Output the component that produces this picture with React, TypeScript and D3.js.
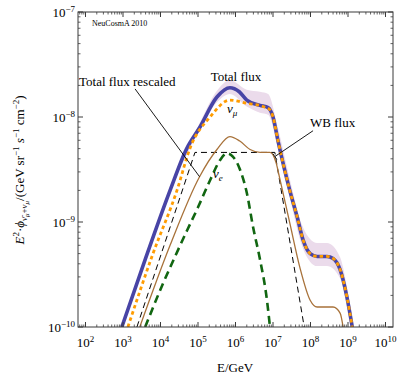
import React from 'react';
import * as d3 from 'd3';

// total flux (nu_mu + nubar_mu), GeV / flux
const totalE = [9.3e2, 4.0e3, 1.8e4, 5.0e4, 1.1e5, 3.2e5, 7.1e5, 1.26e6, 2.0e6, 4.5e6, 7.4e6, 1.0e7, 1.35e7, 2.8e7, 4.4e7, 6.3e7, 9.8e7, 1.5e8, 2.75e8, 4.0e8, 6.2e8, 9.3e8, 1.3e9];
const totalF = [1.0e-10, 4.5e-10, 2.0e-9, 5.0e-9, 7.9e-9, 1.55e-8, 1.9e-8, 1.74e-8, 1.45e-8, 1.29e-8, 1.23e-8, 1.0e-8, 6.0e-9, 2.0e-9, 1.12e-9, 6.8e-10, 5.0e-10, 4.7e-10, 4.7e-10, 4.5e-10, 3.5e-10, 1.95e-10, 1.0e-10];

// uncertainty band around total flux
const bandE = [3.16e4, 1.1e5, 3.2e5, 7.1e5, 2.0e6, 4.5e6, 7.4e6, 1.35e7, 2.8e7, 6.3e7, 1.5e8, 2.75e8, 6.2e8, 9.3e8, 1.3e9];
const bandHi = [3.47e-9, 8.7e-9, 1.78e-8, 2.24e-8, 1.82e-8, 1.74e-8, 1.66e-8, 7.9e-9, 2.57e-9, 8.9e-10, 6.3e-10, 6.3e-10, 4.6e-10, 2.45e-10, 1.2e-10];
const bandLo = [3.16e-9, 7.4e-9, 1.38e-8, 1.66e-8, 1.26e-8, 1.10e-8, 1.05e-8, 5.1e-9, 1.7e-9, 5.6e-10, 3.8e-10, 3.8e-10, 2.9e-10, 1.7e-10, 0.91e-10];

// nu_mu
const numuE = [1.35e3, 6.3e3, 2.75e4, 6.2e4, 2.1e5, 7.1e5, 2.0e6, 5.4e6, 8.3e6, 1.0e7, 1.35e7, 2.8e7, 4.4e7, 6.3e7, 9.8e7, 1.5e8, 2.75e8, 4.0e8, 6.2e8, 9.3e8, 1.3e9];
const numuF = [1.0e-10, 5.0e-10, 2.0e-9, 5.1e-9, 1.0e-8, 1.45e-8, 1.35e-8, 1.26e-8, 1.17e-8, 1.0e-8, 6.0e-9, 2.0e-9, 1.12e-9, 6.8e-10, 5.0e-10, 4.7e-10, 4.7e-10, 4.5e-10, 3.5e-10, 1.95e-10, 1.0e-10];

// nu_e
const nueE = [3.9e3, 1.17e4, 2.45e4, 5.1e4, 1.0e5, 2.1e5, 3.9e5, 5.9e5, 8.5e5, 1.3e6, 2.0e6, 2.95e6, 4.5e6, 6.9e6, 8.3e6];
const nueF = [1.0e-10, 2.6e-10, 4.7e-10, 8.3e-10, 1.38e-9, 2.5e-9, 3.9e-9, 4.5e-9, 4.2e-9, 3.2e-9, 1.9e-9, 8.9e-10, 4.4e-10, 1.8e-10, 1.0e-10];

// total flux rescaled
const rescE = [2.8e3, 1.8e4, 1.1e5, 3.2e5, 7.1e5, 1.3e6, 2.45e6, 4.5e6, 8.3e6, 1.2e7, 1.55e7, 2.8e7, 5.2e7, 9.8e7, 1.5e8, 4.0e8, 6.2e8, 7.4e8];
const rescF = [1.0e-10, 6.0e-10, 2.7e-9, 4.9e-9, 6.5e-9, 5.9e-9, 4.9e-9, 4.6e-9, 4.6e-9, 3.7e-9, 2.5e-9, 9.8e-10, 3.7e-10, 1.8e-10, 1.55e-10, 1.55e-10, 1.35e-10, 1.0e-10];

// Waxman-Bahcall flux
const wbE = [2.35e3, 8.3e4, 1.12e7, 6.8e7];
const wbF = [1.0e-10, 4.6e-9, 4.6e-9, 1.0e-10];

const xExps = [2, 3, 4, 5, 6, 7, 8, 9, 10];
const yExps = [-10, -9, -8, -7];

const W = 403, H = 375;
const margin = { top: 12, right: 10, bottom: 48, left: 78 };
const font = 'Liberation Serif, Times New Roman, serif';

const zip = (a: number[], b: number[]) => a.map((v, i) => [v, b[i]] as [number, number]);

export default function App() {
  const x = d3.scaleLog().domain([10 ** 1.8, 10 ** 10.2]).range([margin.left, W - margin.right]);
  const y = d3.scaleLog().domain([1e-10, 1e-7]).range([H - margin.bottom, margin.top]);
  const x0 = margin.left, x1 = W - margin.right, y0 = H - margin.bottom, y1 = margin.top;

  const line = d3.line<[number, number]>().x(d => x(d[0])).y(d => y(d[1])).curve(d3.curveMonotoneX);
  const straight = d3.line<[number, number]>().x(d => x(d[0])).y(d => y(d[1]));
  const area = d3.area<number>()
    .x((_, i) => x(bandE[i]))
    .y0((_, i) => y(bandLo[i]))
    .y1((_, i) => y(bandHi[i]))
    .curve(d3.curveMonotoneX);

  const xMinor: number[] = [];
  for (let k = 1; k <= 10; k++) for (let m = 2; m <= 9; m++) {
    const v = m * 10 ** k;
    if (x(v) > x0 && x(v) < x1) xMinor.push(v);
  }
  const yMinor: number[] = [];
  for (let k = -10; k < -7; k++) for (let m = 2; m <= 9; m++) yMinor.push(m * 10 ** k);

  const frame = '#3a3a3a';

  // annotation anchors (data space)
  const resA = [2.1e3, 1.85e-8], resB = [1.1e5, 2.7e-9];
  const wbA = [1.17e8, 7.4e-9], wbB = [1.12e7, 4.2e-9];
  const wbx = x(wbB[0]), wby = y(wbB[1]);
  const ang = Math.atan2(y(wbA[1]) - wby, x(wbA[0]) - wbx);
  const px = -Math.sin(ang) * 3.5, py = Math.cos(ang) * 3.5;

  return (
    <svg width={W} height={H} style={{ position: 'absolute', left: 0, top: 0, background: '#fff' }} fontFamily={font}>
      <defs>
        <clipPath id="plot">
          <rect x={x0} y={y1} width={x1 - x0} height={y0 - y1} />
        </clipPath>
      </defs>

      <g clipPath="url(#plot)">
        <path d={area(bandE) || ''} fill="#ebdbeb" />
        <path d={straight(zip(wbE, wbF)) || ''} fill="none" stroke="#000" strokeWidth={1} strokeDasharray="6 4" />
        <path d={line(zip(rescE, rescF)) || ''} fill="none" stroke="#a8723a" strokeWidth={1.3} />
        <path d={line(zip(nueE, nueF)) || ''} fill="none" stroke="#116611" strokeWidth={2.6} strokeDasharray="8 5" />
        <path d={line(zip(totalE, totalF)) || ''} fill="none" stroke="#4844a6" strokeWidth={3.6} />
        <path d={line(zip(numuE, numuF)) || ''} fill="none" stroke="#ff9c00" strokeWidth={2.8} strokeDasharray="3.5 3" />
      </g>

      {/* frame */}
      <rect x={x0} y={y1} width={x1 - x0} height={y0 - y1} fill="none" stroke={frame} strokeWidth={1} />

      {/* ticks */}
      {xExps.map(e => {
        const v = 10 ** e, px0 = x(v);
        return (
          <g key={'xt' + e}>
            <line x1={px0} x2={px0} y1={y0} y2={y0 - 5} stroke={frame} />
            <line x1={px0} x2={px0} y1={y1} y2={y1 + 5} stroke={frame} />
            <text x={px0} y={347} textAnchor="middle" fontSize={13}>
              10<tspan fontSize={9} dy={-5}>{e}</tspan>
            </text>
          </g>
        );
      })}
      {xMinor.map((v, i) => (
        <g key={'xm' + i}>
          <line x1={x(v)} x2={x(v)} y1={y0} y2={y0 - 2.5} stroke={frame} strokeWidth={0.8} />
          <line x1={x(v)} x2={x(v)} y1={y1} y2={y1 + 2.5} stroke={frame} strokeWidth={0.8} />
        </g>
      ))}
      {yExps.map(e => {
        const py0 = y(10 ** e);
        return (
          <g key={'yt' + e}>
            <line x1={x0} x2={x0 + 5} y1={py0} y2={py0} stroke={frame} />
            <line x1={x1} x2={x1 - 5} y1={py0} y2={py0} stroke={frame} />
            <text x={75} y={py0 + 4.5} textAnchor="end" fontSize={13}>
              10<tspan fontSize={9} dy={-5}>{'\u2212' + Math.abs(e)}</tspan>
            </text>
          </g>
        );
      })}
      {yMinor.map((v, i) => (
        <g key={'ym' + i}>
          <line x1={x0} x2={x0 + 2.5} y1={y(v)} y2={y(v)} stroke={frame} strokeWidth={0.8} />
          <line x1={x1} x2={x1 - 2.5} y1={y(v)} y2={y(v)} stroke={frame} strokeWidth={0.8} />
        </g>
      ))}

      {/* annotations */}
      <line x1={x(resA[0])} y1={y(resA[1])} x2={x(resB[0])} y2={y(resB[1])} stroke="#000" strokeWidth={0.9} />
      <line x1={x(wbA[0])} y1={y(wbA[1])} x2={wbx} y2={wby} stroke="#000" strokeWidth={0.9} />
      <line x1={wbx - px} y1={wby - py} x2={wbx + px} y2={wby + py} stroke="#000" strokeWidth={0.9} />

      <text x={92} y={26} fontSize={8}>NeuCosmA 2010</text>
      <text x={236} y={81} textAnchor="middle" fontSize={13}>Total flux</text>
      <text x={79} y={86} fontSize={13}>Total flux rescaled</text>
      <text x={310} y={127} fontSize={13}>WB flux</text>
      <text x={227} y={113} fontSize={13} fontStyle="italic">
        ν<tspan fontSize={9} dy={3}>μ</tspan>
      </text>
      <text x={213} y={178} fontSize={13} fontStyle="italic">
        ν<tspan fontSize={9} dy={3}>e</tspan>
      </text>

      <text x={235} y={372} textAnchor="middle" fontSize={13}>E/GeV</text>

      <text transform="translate(24,170) rotate(-90)" textAnchor="middle" fontSize={13}>
        <tspan fontStyle="italic">E</tspan>
        <tspan fontSize={9} dy={-5}>2</tspan>
        <tspan dy={5}>·</tspan>
        <tspan fontStyle="italic">ϕ</tspan>
        <tspan fontSize={9} fontStyle="italic" dy={3}>{'ν\u0304'}</tspan>
        <tspan fontSize={7} fontStyle="italic" dy={2}>μ</tspan>
        <tspan fontSize={9} dy={-2}>+</tspan>
        <tspan fontSize={9} fontStyle="italic">ν</tspan>
        <tspan fontSize={7} fontStyle="italic" dy={2}>μ</tspan>
        <tspan dy={-5}>/(GeV sr</tspan>
        <tspan fontSize={9} dy={-5}>{'\u22121'}</tspan>
        <tspan dy={5}> </tspan>
        <tspan fontStyle="italic">s</tspan>
        <tspan fontSize={9} dy={-5}>{'\u22121'}</tspan>
        <tspan dy={5}> cm</tspan>
        <tspan fontSize={9} dy={-5}>{'\u22122'}</tspan>
        <tspan dy={5}>)</tspan>
      </text>
    </svg>
  );
}
